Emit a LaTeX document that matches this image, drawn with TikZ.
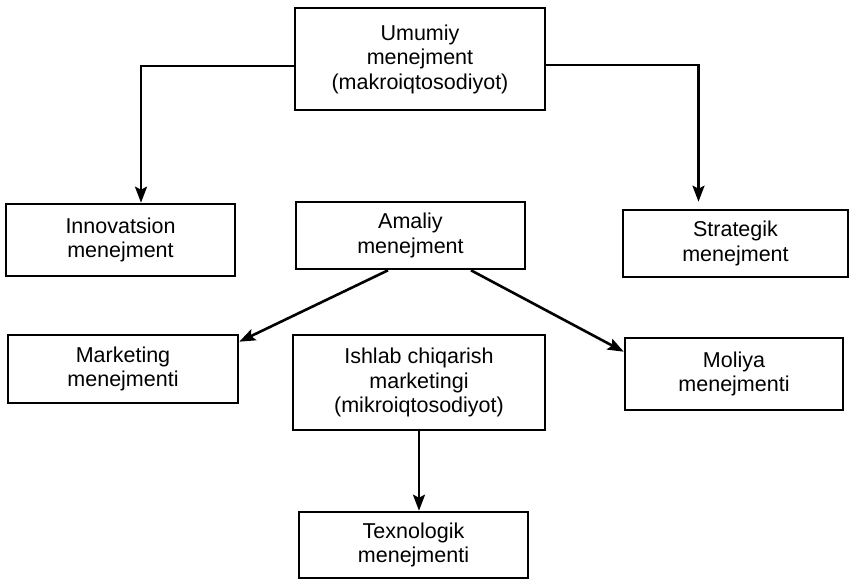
\documentclass[tikz,border=0pt]{standalone}
\usepackage{fontspec}
\setmainfont{Liberation Sans}
\usetikzlibrary{arrows.meta}
\begin{document}
\begin{tikzpicture}[x=1pt,y=-1pt,
  box/.style={draw, line width=2.6pt, align=center, inner sep=0pt,
    font=\fontsize{21.5}{24.5}\selectfont},
  arr/.style={line width=2.6pt, -{Stealth[length=16pt,width=12pt,inset=3pt]}}]
\useasboundingbox (0,0) rectangle (849,581);
\node[box, minimum width=250pt, minimum height=102pt] (top) at (420,59) {Umumiy\\menejment\\(makroiqtosodiyot)};
\node[box, minimum width=229pt, minimum height=72pt] (inn) at (120.5,240) {Innovatsion\\menejment};
\node[box, minimum width=229pt, minimum height=67pt] (ama) at (410.5,235.5) {Amaliy\\menejment};
\node[box, minimum width=225pt, minimum height=67pt] (str) at (735.5,243.5) {Strategik\\menejment};
\node[box, minimum width=230pt, minimum height=68pt] (mar) at (123,369) {Marketing\\menejmenti};
\node[box, minimum width=252pt, minimum height=95pt] (ish) at (419,382.5) {Ishlab chiqarish\\marketingi\\(mikroiqtosodiyot)};
\node[box, minimum width=218pt, minimum height=72pt] (mol) at (734,374) {Moliya\\menejmenti};
\node[box, minimum width=229pt, minimum height=66pt] (tex) at (413.5,545) {Texnologik\\menejmenti};
\draw[arr] ([yshift=-7pt]top.west) -| ([xshift=20.5pt]inn.north);
\draw[arr] ([yshift=-6pt]top.east) -| ([xshift=-37pt,yshift=7pt]str.north);
\draw[arr] ([xshift=-22.5pt]ama.south) -- ([yshift=-8pt]mar.north east);
\draw[arr] ([xshift=60.5pt]ama.south) -- ([yshift=-15pt]mol.north west);
\draw[arr] (ish.south) -- (ish.south |- tex.north);
\end{tikzpicture}
\end{document}
